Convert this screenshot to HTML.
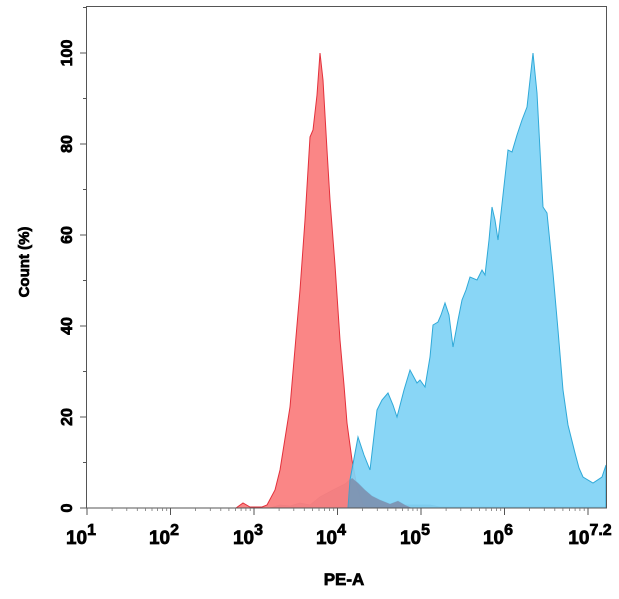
<!DOCTYPE html>
<html><head><style>
body{margin:0;background:#fff;}
svg text{font-family:"Liberation Sans",Arial,sans-serif;font-weight:bold;fill:#000;stroke:#000;stroke-width:0.7;}
</style></head><body>
<svg width="619" height="594" viewBox="0 0 619 594" xmlns="http://www.w3.org/2000/svg">
<rect x="0" y="0" width="619" height="594" fill="#fff"/>
<path d="M270,508 L280,505 L290,506 L300,503 L310,505 L320,497 L333,490 L345,484 L352,478 L358,483 L365,490 L372,496 L380,500 L390,504 L398,501 L405,505 L430,505 L440,507 L606,507 L606,508 Z" fill="#7d8aa8" stroke="#55658a" stroke-width="0.8"/>
<path d="M236,508 L243,503 L250,507 L262,507 L267,505 L275,490 L280,470 L290,407 L300,290 L305,220 L310,137 L313,130 L317,95 L320,53 L323,80 L327,150 L330,200 L335,265 L340,340 L344,385 L347,423 L352,460 L357,487 L363,505 L368,508 Z" fill="#fa7f80" fill-opacity="0.95" stroke="#e3303b" stroke-width="1"/>
<path d="M348,508 L350,480 L358,437 L364,455 L370,470 L377,410 L382,400 L388,393 L393,405 L397,417 L404,390 L410,370 L417,383 L420,380 L425,387 L430,357 L433,325 L438,322 L441,315 L445,303 L449,315 L453,347 L458,320 L462,300 L466,290 L470,277 L477,280 L482,270 L485,275 L489,240 L492,207 L495,220 L498,240 L503,195 L508,150 L512,152 L517,135 L522,120 L527,107 L530,80 L533,53 L537,93 L540,150 L543,207 L547,213 L553,273 L558,330 L563,390 L568,425 L575,453 L579,468 L583,477 L593,483 L602,477 L606,465 L606,508 Z" fill="#7fd3f5" fill-opacity="0.92" stroke="#2fa9d8" stroke-width="1"/>
<path d="M348,508 L350,480 L352,478 L358,483 L365,490 L372,496 L380,500 L390,504 L398,501 L405,505 L412,508 Z" fill="#7d8aa8" fill-opacity="0.8"/>
<rect x="86.5" y="6.5" width="520" height="501.5" fill="none" stroke="#555" stroke-width="1"/>
<g stroke="#555" stroke-width="1">
<line x1="80" y1="508" x2="86.5" y2="508"/>
<line x1="80" y1="417" x2="86.5" y2="417"/>
<line x1="80" y1="326" x2="86.5" y2="326"/>
<line x1="80" y1="235" x2="86.5" y2="235"/>
<line x1="80" y1="144" x2="86.5" y2="144"/>
<line x1="80" y1="53" x2="86.5" y2="53"/>
<line x1="83" y1="462.5" x2="86.5" y2="462.5"/>
<line x1="83" y1="371.5" x2="86.5" y2="371.5"/>
<line x1="83" y1="280.5" x2="86.5" y2="280.5"/>
<line x1="83" y1="189.5" x2="86.5" y2="189.5"/>
<line x1="83" y1="98.5" x2="86.5" y2="98.5"/>
<line x1="83" y1="7.5" x2="86.5" y2="7.5"/>
<line x1="87" y1="508" x2="87" y2="515"/>
<line x1="170.5" y1="508" x2="170.5" y2="515"/>
<line x1="254" y1="508" x2="254" y2="515"/>
<line x1="337.5" y1="508" x2="337.5" y2="515"/>
<line x1="421" y1="508" x2="421" y2="515"/>
<line x1="504.5" y1="508" x2="504.5" y2="515"/>
<line x1="588" y1="508" x2="588" y2="515"/>
</g>
<g stroke="#777" stroke-width="0.8">
<path d="M112.1,508v3M126.8,508v3M137.3,508v3M145.4,508v3M152,508v3M157.6,508v3M162.4,508v3M166.7,508v3
M195.6,508v3M210.3,508v3M220.8,508v3M228.9,508v3M235.5,508v3M241.1,508v3M245.9,508v3M250.2,508v3
M279.1,508v3M293.8,508v3M304.3,508v3M312.4,508v3M319,508v3M324.6,508v3M329.4,508v3M333.7,508v3
M362.6,508v3M377.3,508v3M387.8,508v3M395.9,508v3M402.5,508v3M408.1,508v3M412.9,508v3M417.2,508v3
M446.1,508v3M460.8,508v3M471.3,508v3M479.4,508v3M486,508v3M491.6,508v3M496.4,508v3M500.7,508v3
M529.6,508v3M544.3,508v3M554.8,508v3M562.9,508v3M569.5,508v3M575.1,508v3M579.9,508v3M584.2,508v3"/>
</g>
<g font-size="16">
<text transform="translate(72,508) rotate(-90)" text-anchor="middle">0</text>
<text transform="translate(72,417) rotate(-90)" text-anchor="middle">20</text>
<text transform="translate(72,326) rotate(-90)" text-anchor="middle">40</text>
<text transform="translate(72,235) rotate(-90)" text-anchor="middle">60</text>
<text transform="translate(72,144) rotate(-90)" text-anchor="middle">80</text>
<text transform="translate(72,53) rotate(-90)" text-anchor="middle">100</text>
<text transform="translate(29,262) rotate(-90)" text-anchor="middle" font-size="15">Count  (%)</text>
</g>
<g font-size="19">
<text x="81" y="544" text-anchor="middle">10<tspan dy="-9" font-size="16">1</tspan></text>
<text x="164" y="544" text-anchor="middle">10<tspan dy="-9" font-size="16">2</tspan></text>
<text x="248" y="544" text-anchor="middle">10<tspan dy="-9" font-size="16">3</tspan></text>
<text x="331" y="544" text-anchor="middle">10<tspan dy="-9" font-size="16">4</tspan></text>
<text x="415" y="544" text-anchor="middle">10<tspan dy="-9" font-size="16">5</tspan></text>
<text x="498" y="544" text-anchor="middle">10<tspan dy="-9" font-size="16">6</tspan></text>
<text x="590" y="544" text-anchor="middle">10<tspan dy="-9" font-size="16">7.2</tspan></text>
<text x="344" y="585" text-anchor="middle" font-size="17">PE-A</text>
</g>
</svg>
</body></html>
